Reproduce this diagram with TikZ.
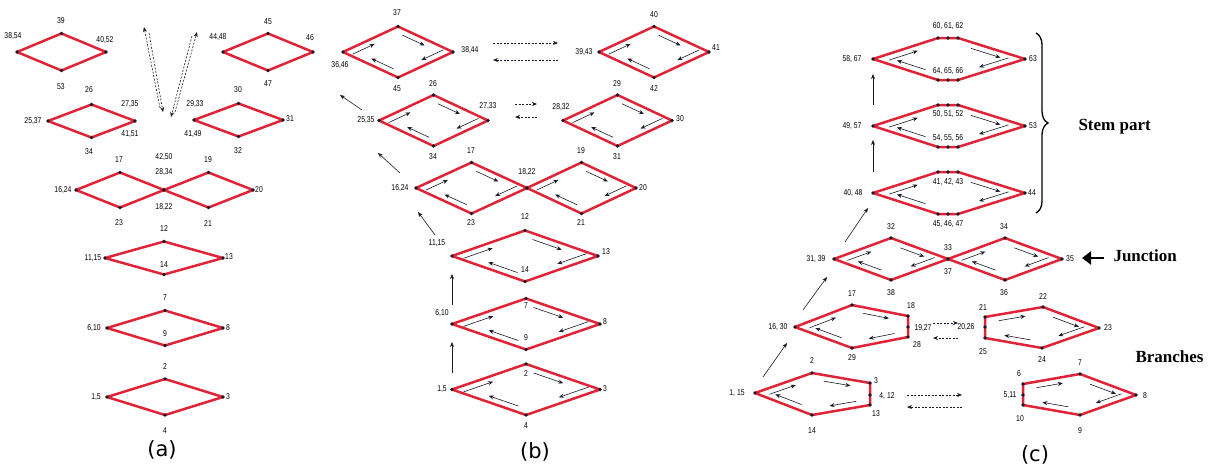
\documentclass[tikz,border=0pt]{standalone}
\usepackage{fontspec}
\setmainfont{Liberation Sans}
\newfontfamily\etroit[FakeStretch=0.8]{Liberation Sans}
\newfontfamily\legende{DejaVu Sans}
\newfontfamily\titres{Liberation Serif}
\usetikzlibrary{calc,arrows.meta,decorations.pathreplacing}
\definecolor{rouge}{RGB}{224,36,56}
\definecolor{encre}{RGB}{25,25,40}

\begin{document}
\begin{tikzpicture}[x=1pt, y=-1pt,
    arete/.style={rouge, line width=2.5pt, line join=round},
    sommet/.style={fill=encre},
    etiq/.style={inner sep=0pt, font=\etroit\fontsize{8.5}{8.5}\selectfont},
    flux/.style={encre, line width=0.6pt, -{Stealth[length=5pt, width=4pt]}},
    saut/.style={flux, dash pattern=on 2pt off 1.5pt},
    sous/.style={font=\legende\fontsize{21}{21}\selectfont},
    partie/.style={font=\titres\bfseries\fontsize{17}{17}\selectfont, anchor=west}]
\useasboundingbox (0,0) rectangle (1221,469);

% (a) : losanges seuls
\foreach \n/\xc/\yc/\w/\h in {a1/61.5/52/44.5/18.5, a2/91.5/121/43.5/16.5,
    a3/268/52/45/18.5, a4/238.5/120/44.5/16.5, a5/120/190/44/17.5,
    a6/208.5/190/44.5/17.5, a7/164/258/59/16.5, a8/165/328/58/17.5,
    a9/165/397/58/18} {
  \coordinate (\n-l) at (\xc-\w,\yc);
  \coordinate (\n-t) at (\xc,\yc-\h);
  \coordinate (\n-r) at (\xc+\w,\yc);
  \coordinate (\n-b) at (\xc,\yc+\h);
  \draw[arete] (\n-l) -- (\n-t) -- (\n-r) -- (\n-b) -- cycle;
  \foreach \s in {l,t,r,b} \fill[sommet] (\n-\s) circle (1.8);
}

% (b) : losanges parcourus
\foreach \n/\xc/\yc/\w in {b1/398/52/55, b2/654/52/55, b3/433.5/120.5/54.5,
    b4/617.5/120.5/54.5, b5/471.5/188/55.5, b6/581.5/188/54.5,
    b7/525/256/73, b8/526/324/74, b9/526/389.5/74} {
  \coordinate (\n-l) at (\xc-\w,\yc);
  \coordinate (\n-t) at (\xc,\yc-25.5);
  \coordinate (\n-r) at (\xc+\w,\yc);
  \coordinate (\n-b) at (\xc,\yc+25.5);
  \draw[arete] (\n-l) -- (\n-t) -- (\n-r) -- (\n-b) -- cycle;
  \foreach \s in {l,t,r,b} \fill[sommet] (\n-\s) circle (1.8);
  \foreach \u/\v in {l/t, t/r, r/b, b/l}
    \draw[flux] ($(\n-\u)!.13!(\n-\v)!6pt!-90:(\n-\v)$) -- ($(\n-\u)!.53!(\n-\v)!6pt!-90:(\n-\v)$);
}

% (c) : tige
\foreach \n/\yc in {c1/59, c2/126, c3/193} {
  \coordinate (\n-l) at (873,\yc);
  \coordinate (\n-t1) at (938,\yc-21);
  \coordinate (\n-t2) at (948,\yc-21);
  \coordinate (\n-t3) at (958,\yc-21);
  \coordinate (\n-r) at (1025,\yc);
  \coordinate (\n-b3) at (958,\yc+21);
  \coordinate (\n-b2) at (948,\yc+21);
  \coordinate (\n-b1) at (938,\yc+21);
  \draw[arete] (\n-l) -- (\n-t1) -- (\n-t3) -- (\n-r) -- (\n-b3) -- (\n-b1) -- cycle;
  \foreach \s in {l,t1,t2,t3,r,b1,b2,b3} \fill[sommet] (\n-\s) circle (1.8);
  \foreach \u/\v in {l/t1, t3/r, r/b3, b1/l}
    \draw[flux] ($(\n-\u)!.22!(\n-\v)!6pt!-90:(\n-\v)$) -- ($(\n-\u)!.66!(\n-\v)!6pt!-90:(\n-\v)$);
}

% (c) : jonction
\foreach \n/\xc in {j1/891, j2/1005} {
  \coordinate (\n-l) at (\xc-57,259);
  \coordinate (\n-t) at (\xc,238);
  \coordinate (\n-r) at (\xc+57,259);
  \coordinate (\n-b) at (\xc,280);
  \draw[arete] (\n-l) -- (\n-t) -- (\n-r) -- (\n-b) -- cycle;
  \foreach \s in {l,t,r,b} \fill[sommet] (\n-\s) circle (1.8);
  \foreach \u/\v in {l/t, t/r, r/b, b/l}
    \draw[flux] ($(\n-\u)!.2!(\n-\v)!6pt!-90:(\n-\v)$) -- ($(\n-\u)!.62!(\n-\v)!6pt!-90:(\n-\v)$);
}

% (c) : branches
\path (795,327) coordinate (p1-l) (852,305) coordinate (p1-t) (908,316) coordinate (p1-tr)
      (908,327) coordinate (p1-m) (908,337) coordinate (p1-br) (852,348) coordinate (p1-b);
\path (985,317) coordinate (p2-tl) (985,327) coordinate (p2-m) (985,338) coordinate (p2-bl)
      (1043,307) coordinate (p2-t) (1099,328) coordinate (p2-r) (1042,348) coordinate (p2-b);
\path (755,393) coordinate (p3-l) (812,373) coordinate (p3-t) (870,383) coordinate (p3-tr)
      (870,395) coordinate (p3-m) (870,405) coordinate (p3-br) (812,415) coordinate (p3-b);
\path (1023,384) coordinate (p4-tl) (1023,395) coordinate (p4-m) (1023,405) coordinate (p4-bl)
      (1080,374) coordinate (p4-t) (1136,395) coordinate (p4-r) (1080,415) coordinate (p4-b);
\foreach \n in {p1,p3} {
  \draw[arete] (\n-l) -- (\n-t) -- (\n-tr) -- (\n-br) -- (\n-b) -- cycle;
  \foreach \s in {l,t,tr,m,br,b} \fill[sommet] (\n-\s) circle (1.8);
  \foreach \u/\v in {l/t, t/tr, br/b, b/l}
    \draw[flux] ($(\n-\u)!.22!(\n-\v)!6pt!-90:(\n-\v)$) -- ($(\n-\u)!.68!(\n-\v)!6pt!-90:(\n-\v)$);
}
\foreach \n in {p2,p4} {
  \draw[arete] (\n-tl) -- (\n-t) -- (\n-r) -- (\n-b) -- (\n-bl) -- cycle;
  \foreach \s in {tl,m,bl,t,r,b} \fill[sommet] (\n-\s) circle (1.8);
  \foreach \u/\v in {tl/t, t/r, r/b, b/bl}
    \draw[flux] ($(\n-\u)!.22!(\n-\v)!6pt!-90:(\n-\v)$) -- ($(\n-\u)!.68!(\n-\v)!6pt!-90:(\n-\v)$);
}

% fleches entre les motifs
\path (160,108) coordinate (va1) (144,27) coordinate (va2) (149,33) coordinate (va3) (163,112) coordinate (va4)
      (175,112) coordinate (va5) (197,32) coordinate (va6) (192,36) coordinate (va7) (171,117) coordinate (va8)
      (493,43) coordinate (vb1) (558,43) coordinate (vb2) (558,60) coordinate (vb3) (493,60) coordinate (vb4)
      (515,104) coordinate (vb5) (537,104) coordinate (vb6) (537,117) coordinate (vb7) (515,117) coordinate (vb8)
      (933,323) coordinate (vc1) (958,323) coordinate (vc2) (958,338) coordinate (vc3) (933,338) coordinate (vc4)
      (907,395) coordinate (vc5) (962,395) coordinate (vc6) (962,407) coordinate (vc7) (907,407) coordinate (vc8);
\foreach \u/\v in {va1/va2, va3/va4, va5/va6, va7/va8, vb1/vb2, vb3/vb4, vb5/vb6, vb7/vb8,
    vc1/vc2, vc3/vc4, vc5/vc6, vc7/vc8}
  \draw[saut] (\u) -- (\v);
\path (362,110) coordinate (mb1) (340,95) coordinate (mb2) (400,173) coordinate (mb3) (378,153) coordinate (mb4)
      (435,235) coordinate (mb5) (418,212) coordinate (mb6) (452,305) coordinate (mb7) (452,274) coordinate (mb8)
      (452,373) coordinate (mb9) (452,342) coordinate (mb10)
      (763,377) coordinate (mc1) (787,343) coordinate (mc2) (803,310) coordinate (mc3) (827,277) coordinate (mc4)
      (845,242) coordinate (mc5) (868,208) coordinate (mc6) (873,172) coordinate (mc7) (873,140) coordinate (mc8)
      (873,105) coordinate (mc9) (873,74) coordinate (mc10);
\foreach \u/\v in {mb1/mb2, mb3/mb4, mb5/mb6, mb7/mb8, mb9/mb10, mc1/mc2, mc3/mc4, mc5/mc6, mc7/mc8, mc9/mc10}
  \draw[flux] (\u) -- (\v);

% numeros des sommets
\foreach \x/\y/\t [count=\i] in {13/36/{38,54}, 61/21/39, 105/40/{40,52}, 61/87/53,
    33/121/{25,37}, 89/90/26, 130/104/{27,35}, 130/134/{41,51}, 89/152/34,
    218/37/{44,48}, 268/22/45, 310/38/46, 268/84/47,
    195/104/{29,33}, 193/134/{41,49}, 238/90/30, 290/119/31, 238/151/32,
    63/190/{16,24}, 119/160/17, 164/157/{42,50}, 164/172/{28,34}, 164/207/{18,22},
    119/223/23, 208/160/19, 208/224/21, 259/190/20,
    93/258/{11,15}, 164/229/12, 229/257/13, 164/265/14,
    94/328/{6,10}, 165/298/7, 228/328/8, 165/334/9,
    96/397/{1,5}, 165/367/2, 228/397/3, 165/431/4}
  \node[etiq] (ea\i) at (\x,\y) {\t};
\foreach \x/\y/\t [count=\i] in {340/65/{36,46}, 397/13/37, 470/50/{38,44}, 397/89/45,
    584/52/{39,43}, 654/15/40, 716/48/41, 654/89/42,
    366/120/{25,35}, 433/84/26, 488/106/{27,33}, 433/157/34,
    561/107/{28,32}, 617/84/29, 680/119/30, 617/157/31,
    400/188/{16,24}, 471/151/17, 527/172/{18,22}, 581/151/19, 643/188/20, 581/223/21, 471/223/23,
    437/243/{11,15}, 525/217/12, 606/252/13, 525/270/14,
    442/313/{6,10}, 526/306/7, 605/322/8, 526/338/9,
    442/389/{1,5}, 526/374/2, 605/389/3, 526/426/4}
  \node[etiq] (eb\i) at (\x,\y) {\t};
\foreach \x/\y/\t [count=\i] in {852/59/{58, 67}, 948/26/{60, 61, 62}, 1033/59/63, 948/71/{64, 65, 66},
    852/126/{49, 57}, 948/114/{50, 51, 52}, 1033/126/53, 948/138/{54, 55, 56},
    853/193/{40, 48}, 948/182/{41, 42, 43}, 1032/193/44, 948/224/{45, 46, 47},
    816/259/{31, 39}, 891/227/32, 948/248/33, 1004/227/34, 1070/259/35,
    891/293/38, 948/272/37, 1004/293/36,
    778/327/{16, 30}, 852/294/17, 911/306/18, 923/328/{19,27}, 917/345/28, 852/358/29,
    983/308/21, 966/327/{20,26}, 1043/297/22, 1108/328/23, 1042/360/24, 983/352/25,
    737/393/{1, 15}, 812/361/2, 876/381/3, 887/396/{4, 12}, 876/414/13, 812/431/14,
    1019/374/6, 1010/395/{5,11}, 1020/419/10, 1080/363/7, 1145/396/8, 1080/431/9}
  \node[etiq] (ec\i) at (\x,\y) {\t};

% parties de (c)
\coordinate (ac1) at (1036,33);
\coordinate (ac2) at (1036,213);
\draw[decorate, decoration={brace, amplitude=12pt}, line width=1.3pt] (ac1) -- (ac2);
\node[partie] (tige) at (1075,127) {Stem part};
\coordinate (jq) at (1104,258);
\coordinate (jp) at (1082,258);
\draw[line width=2pt, -{Triangle[length=9pt, width=13pt]}] (jq) -- (jp);
\node[partie] (jonction) at (1110,256) {Junction};
\node[partie] (branches) at (1132,357) {Branches};

\node[sous] (sa) at (162,450) {(a)};
\node[sous] (sb) at (535,452) {(b)};
\node[sous] (sc) at (1035,455) {(c)};
\end{tikzpicture}
\end{document}
